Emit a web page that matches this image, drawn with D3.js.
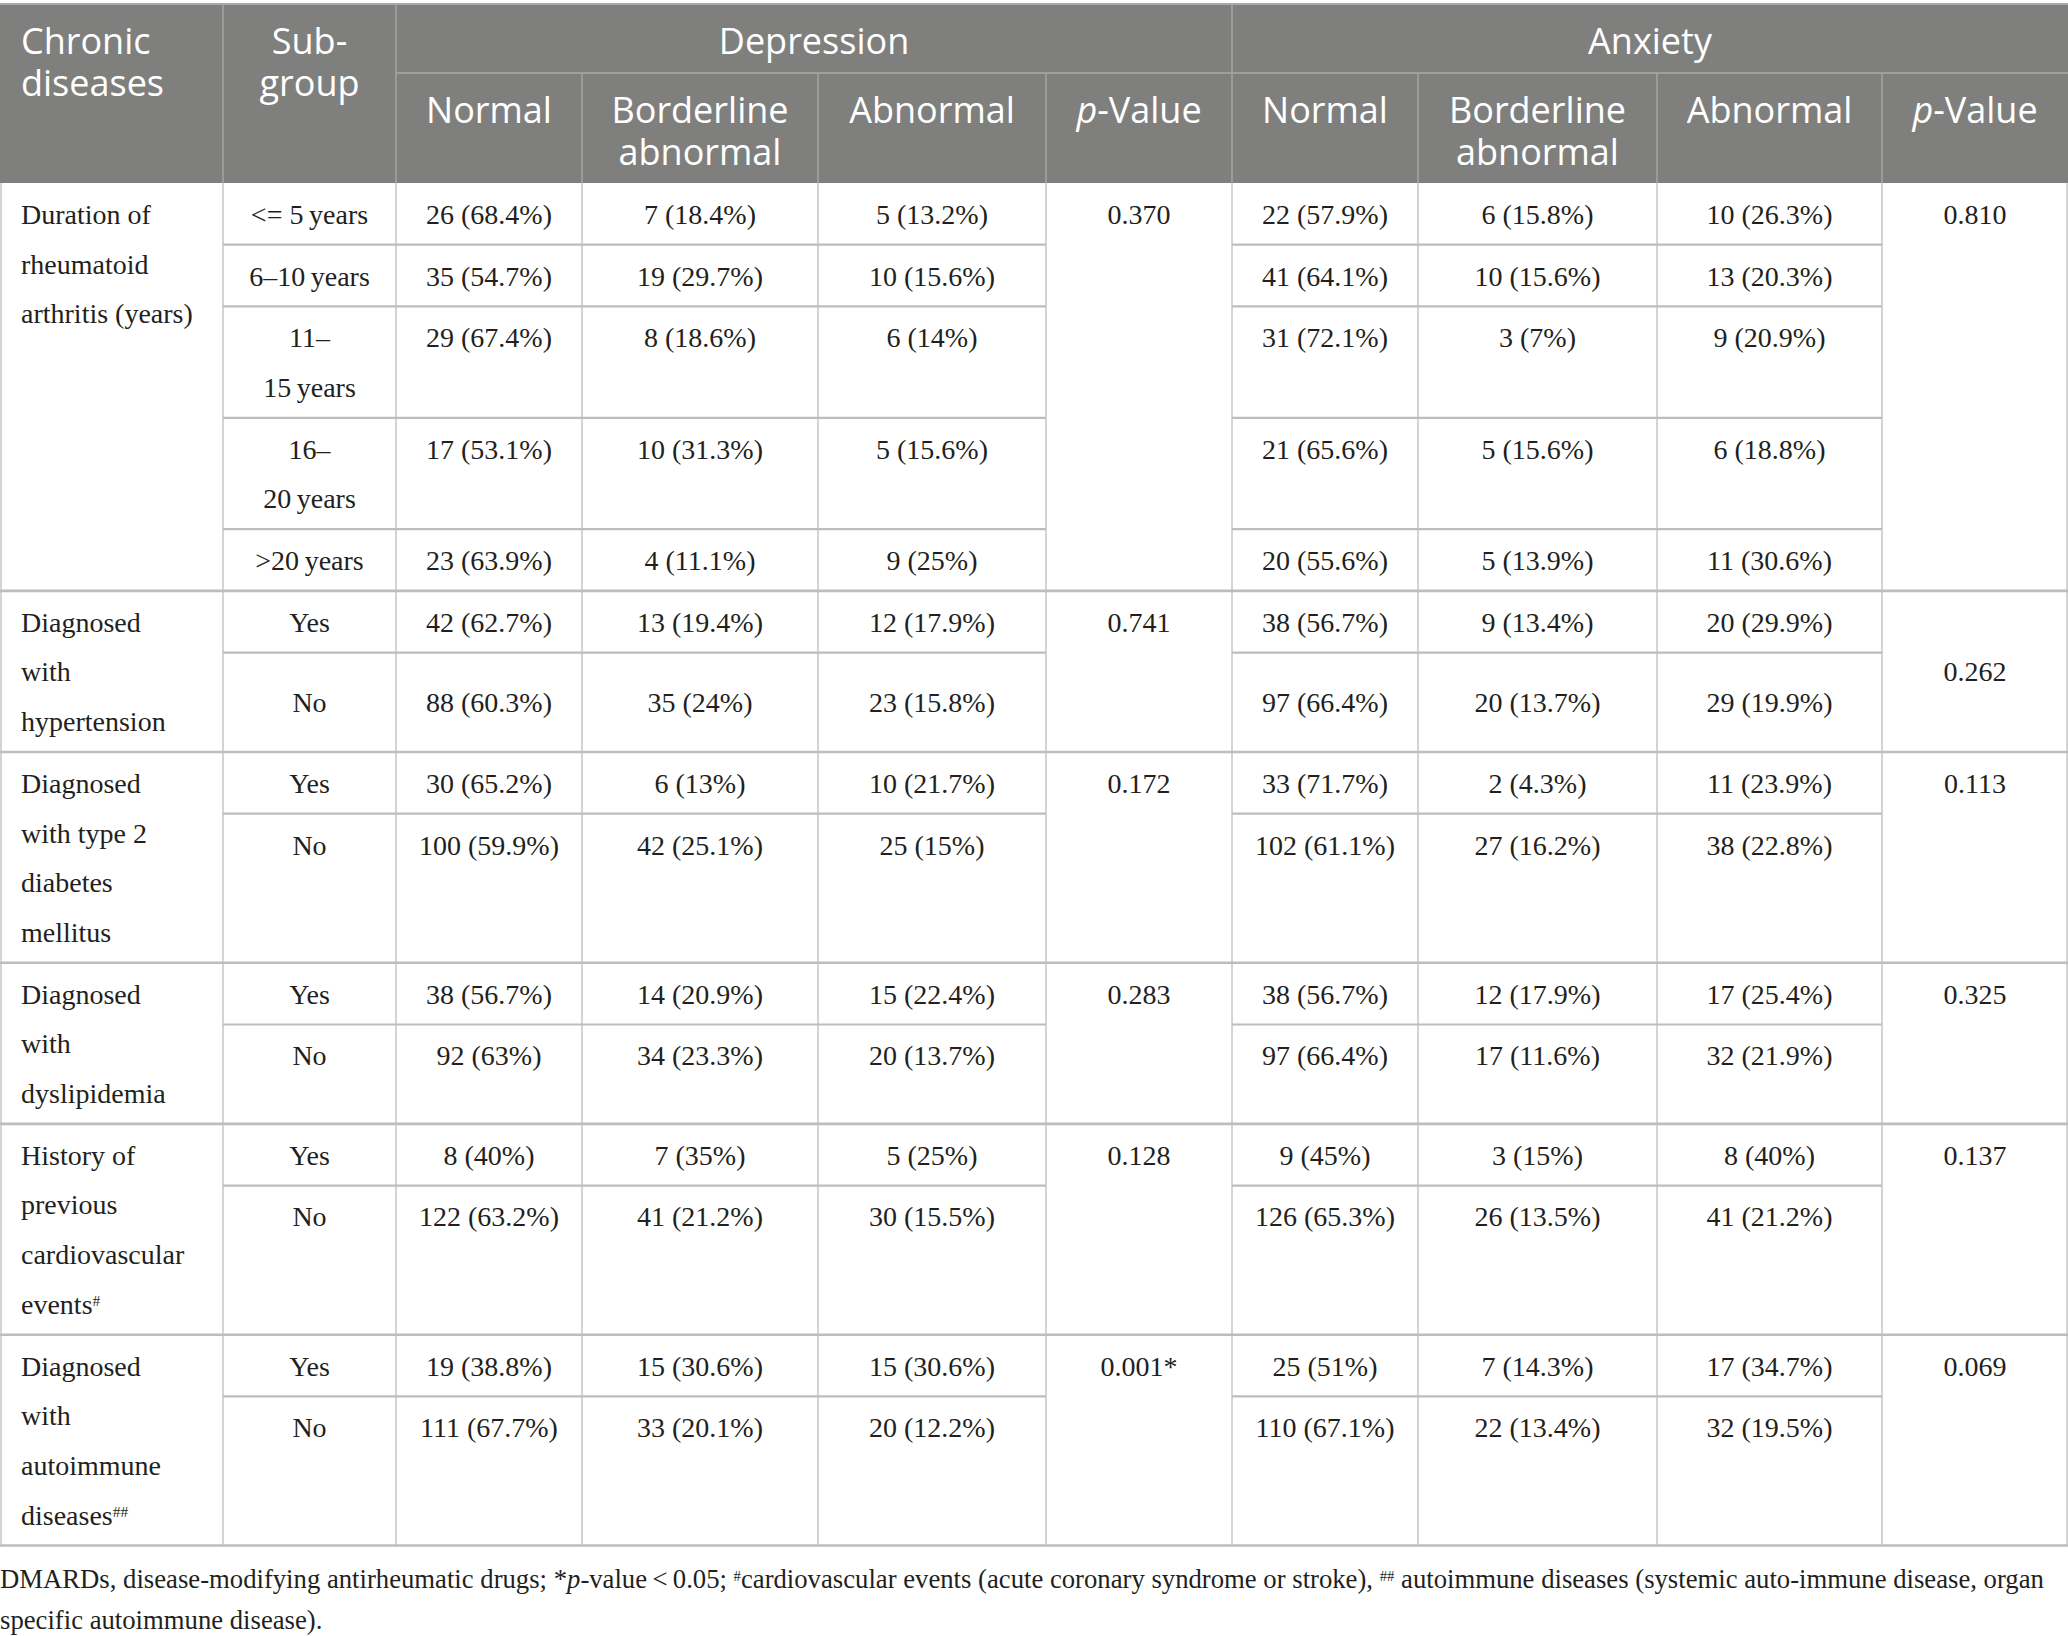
<!DOCTYPE html>
<html>
<head>
<meta charset="utf-8">
<script src="https://cdn.jsdelivr.net/npm/d3@7"></script>
<style>
body { margin: 0; background: #fff; }
</style>
</head>
<body>
<script>
// ---- table data ----
// "|" = line break, "^" = start of superscript
var groupLabels = [
  "Duration of|rheumatoid|arthritis (years)",
  "Diagnosed|with|hypertension",
  "Diagnosed|with type 2|diabetes|mellitus",
  "Diagnosed|with|dyslipidemia",
  "History of|previous|cardiovascular|events^#",
  "Diagnosed|with|autoimmune|diseases^##"
];
var subgroups = [
  ["<= 5\u2009years", "6\u201310\u2009years", "11\u2013|15\u2009years", "16\u2013|20\u2009years", ">20\u2009years"],
  ["Yes", "No"],
  ["Yes", "No"],
  ["Yes", "No"],
  ["Yes", "No"],
  ["Yes", "No"]
];
var depNormalN   = [26, 35, 29, 17, 23, 42, 88, 30, 100, 38, 92, 8, 122, 19, 111];
var depNormalPct = [68.4, 54.7, 67.4, 53.1, 63.9, 62.7, 60.3, 65.2, 59.9, 56.7, 63, 40, 63.2, 38.8, 67.7];
var depBorderN   = [7, 19, 8, 10, 4, 13, 35, 6, 42, 14, 34, 7, 41, 15, 33];
var depBorderPct = [18.4, 29.7, 18.6, 31.3, 11.1, 19.4, 24, 13, 25.1, 20.9, 23.3, 35, 21.2, 30.6, 20.1];
var depAbnN      = [5, 10, 6, 5, 9, 12, 23, 10, 25, 15, 20, 5, 30, 15, 20];
var depAbnPct    = [13.2, 15.6, 14, 15.6, 25, 17.9, 15.8, 21.7, 15, 22.4, 13.7, 25, 15.5, 30.6, 12.2];
var anxNormalN   = [22, 41, 31, 21, 20, 38, 97, 33, 102, 38, 97, 9, 126, 25, 110];
var anxNormalPct = [57.9, 64.1, 72.1, 65.6, 55.6, 56.7, 66.4, 71.7, 61.1, 56.7, 66.4, 45, 65.3, 51, 67.1];
var anxBorderN   = [6, 10, 3, 5, 5, 9, 20, 2, 27, 12, 17, 3, 26, 7, 22];
var anxBorderPct = [15.8, 15.6, 7, 15.6, 13.9, 13.4, 13.7, 4.3, 16.2, 17.9, 11.6, 15, 13.5, 14.3, 13.4];
var anxAbnN      = [10, 13, 9, 6, 11, 20, 29, 11, 38, 17, 32, 8, 41, 17, 32];
var anxAbnPct    = [26.3, 20.3, 20.9, 18.8, 30.6, 29.9, 19.9, 23.9, 22.8, 25.4, 21.9, 40, 21.2, 34.7, 19.5];
var depP = [0.370, 0.741, 0.172, 0.283, 0.128, 0.001];
var anxP = [0.810, 0.262, 0.113, 0.325, 0.137, 0.069];
var levelLabels = ["Normal", "Borderline|abnormal", "Abnormal", "^p-Value"];

// ---- layout ----
var W = 2068, H = 1636;
var colW = [223, 173, 186, 236, 228, 186, 186, 239, 225, 186];
var colX = [0].concat(Array.from(d3.cumsum(colW)));
var x = d3.scaleOrdinal().domain(d3.range(colX.length)).range(colX);
var top0 = 4, headMid = 73, headBot = 183;
var lineH = 49.7, pad = 12;
var headFill = '#7f807e', headLine = '#a9a9a9', bodyLine = '#bdbdbd';
var ink = '#231f20';
var sansFont = "'Open Sans', sans-serif", serifFont = "'Liberation Serif', serif";
var middleGroups = [1];  // hypertension block is vertically centred

var svg = d3.select('body').append('svg')
  .attr('width', W).attr('height', H)
  .style('display', 'block');

function fmtCell(n, p) {
  var s = (p % 1 === 0) ? d3.format('d')(p) : d3.format('.1f')(p);
  return n + ' (' + s + '%)';
}
function fmtP(p) {
  return d3.format('.3f')(p) + (p < 0.05 ? '*' : '');
}

// write one text line, "^" splits off a superscript (or italic p for header)
function putLine(g, str, xx, yy, anchor, opts) {
  var t = g.append('text')
    .attr('x', xx).attr('y', yy)
    .attr('text-anchor', anchor)
    .attr('font-family', opts.font)
    .attr('font-size', opts.size)
    .attr('fill', opts.color);
  var parts = str.split('^');
  if (opts.italicP && parts.length > 1) {
    t.append('tspan').attr('font-style', 'italic').text('p');
    t.append('tspan').text(parts[1].slice(1));
  } else {
    t.append('tspan').text(parts[0]);
    if (parts.length > 1) {
      t.append('tspan').attr('font-size', opts.size * 0.55)
        .attr('baseline-shift', '55%').text(parts[1]);
    }
  }
  return t;
}

function cellText(str, x0, x1, yTop, h, align, valign, opts) {
  var lines = str.split('|');
  var step = opts.step;
  var first;
  if (valign === 'middle') first = yTop + h / 2 - (lines.length - 1) * step / 2;
  else first = yTop + opts.first;
  lines.forEach(function(l, i) {
    var xx = align === 'left' ? x0 + 21 : (x0 + x1) / 2;
    putLine(svg, l, xx, first + i * step + opts.size * 0.35,
      align === 'left' ? 'start' : 'middle', opts);
  });
}

var headOpts = { font: sansFont, size: 36, color: '#fff', step: 42, first: 37, italicP: true };
var bodyOpts = { font: serifFont, size: 28, color: ink, step: lineH, first: 31 };

// ---- header ----
svg.append('rect').attr('x', 0).attr('y', top0)
  .attr('width', W).attr('height', headBot - top0).attr('fill', headFill);

var hl = svg.append('g').attr('stroke', headLine).attr('stroke-width', 1.3);
hl.append('line').attr('x1', 0).attr('x2', W).attr('y1', top0).attr('y2', top0).attr('stroke-width', 2);
hl.append('line').attr('x1', x(2)).attr('x2', W).attr('y1', headMid).attr('y2', headMid);
[1, 2, 6].forEach(function(c) {
  hl.append('line').attr('x1', x(c)).attr('x2', x(c)).attr('y1', top0).attr('y2', headBot);
});
[3, 4, 5, 7, 8, 9].forEach(function(c) {
  hl.append('line').attr('x1', x(c)).attr('x2', x(c)).attr('y1', headMid).attr('y2', headBot);
});

cellText('Chronic|diseases', x(0), x(1), top0, 0, 'left', 'top', headOpts);
cellText('Sub-|group', x(1), x(2), top0, 0, 'center', 'top', headOpts);
cellText('Depression', x(2), x(6), top0, 0, 'center', 'top', headOpts);
cellText('Anxiety', x(6), x(10), top0, 0, 'center', 'top', headOpts);
levelLabels.forEach(function(lab, i) {
  cellText(lab, x(2 + i), x(3 + i), headMid, 0, 'center', 'top', headOpts);
  cellText(lab, x(6 + i), x(7 + i), headMid, 0, 'center', 'top', headOpts);
});

// ---- body rows ----
var rows = [];   // one per subgroup
var groups = []; // one per disease block
var y = headBot, k = 0;
subgroups.forEach(function(subs, g) {
  var hs = subs.map(function(s) { return pad + s.split('|').length * lineH; });
  var need = pad + groupLabels[g].split('|').length * lineH;
  var sum = d3.sum(hs);
  if (need > sum) hs[hs.length - 1] += need - sum;
  var gy = y;
  subs.forEach(function(s, j) {
    rows.push({ g: g, label: s, y: y, h: hs[j], i: k++ });
    y += hs[j];
  });
  groups.push({ g: g, y: gy, h: y - gy });
});
var bodyBot = y;

var bl = svg.append('g').attr('stroke', bodyLine);
// vertical rules
colX.forEach(function(cx, c) {
  var xx = c === 0 ? 1 : (c === colX.length - 1 ? W - 1 : cx);
  bl.append('line').attr('x1', xx).attr('x2', xx)
    .attr('y1', headBot).attr('y2', bodyBot).attr('stroke-width', 1.3);
});
// group rules (full width)
groups.forEach(function(gr) {
  bl.append('line').attr('x1', 0).attr('x2', W)
    .attr('y1', gr.y + gr.h).attr('y2', gr.y + gr.h).attr('stroke-width', 2.6);
});
// subgroup rules (not across label or p-value columns)
rows.forEach(function(r, j) {
  var next = rows[j + 1];
  if (!next || next.g !== r.g) return;
  var yy = r.y + r.h;
  bl.append('line').attr('x1', x(1)).attr('x2', x(5)).attr('y1', yy).attr('y2', yy).attr('stroke-width', 2.2);
  bl.append('line').attr('x1', x(6)).attr('x2', x(9)).attr('y1', yy).attr('y2', yy).attr('stroke-width', 2.2);
});

var cols = [
  [depNormalN, depNormalPct], [depBorderN, depBorderPct], [depAbnN, depAbnPct],
  [anxNormalN, anxNormalPct], [anxBorderN, anxBorderPct], [anxAbnN, anxAbnPct]
];
var colIdx = [2, 3, 4, 6, 7, 8];

groups.forEach(function(gr) {
  var mid = middleGroups.indexOf(gr.g) >= 0;
  cellText(groupLabels[gr.g], x(0), x(1), gr.y, gr.h, 'left', 'top', bodyOpts);
  cellText(fmtP(depP[gr.g]), x(5), x(6), gr.y, gr.h, 'center', 'top', bodyOpts);
  cellText(fmtP(anxP[gr.g]), x(9), x(10), gr.y, gr.h, 'center', mid ? 'middle' : 'top', bodyOpts);
});

rows.forEach(function(r) {
  var va = middleGroups.indexOf(r.g) >= 0 ? 'middle' : 'top';
  cellText(r.label, x(1), x(2), r.y, r.h, 'center', va, bodyOpts);
  cols.forEach(function(pair, c) {
    cellText(fmtCell(pair[0][r.i], pair[1][r.i]), x(colIdx[c]), x(colIdx[c] + 1),
      r.y, r.h, 'center', va, bodyOpts);
  });
});

// ---- footnote ----
function footLine(yy, parts, fit) {
  var t = svg.append('text').attr('x', 0).attr('y', yy)
    .attr('font-family', serifFont).attr('font-size', 26).attr('fill', ink);
  parts.forEach(function(p) {
    var s = t.append('tspan').text(p.t);
    if (p.it) s.attr('font-style', 'italic');
    if (p.sup) s.attr('font-size', 15).attr('baseline-shift', '50%');
  });
  if (fit) {
    var len = t.node().getComputedTextLength();
    var fs = 26 * fit / len;
    t.attr('font-size', fs);
    t.selectAll('tspan').filter(function() { return d3.select(this).attr('baseline-shift'); })
      .attr('font-size', fs * 0.55);
  }
  return t;
}
var fy = bodyBot + 42;
var fl1 = footLine(fy, [
  { t: 'DMARDs, disease-modifying antirheumatic drugs; *' },
  { t: 'p', it: true },
  { t: '-value\u2009<\u20090.05; ' },
  { t: '#', sup: true },
  { t: 'cardiovascular events (acute coronary syndrome or stroke), ' },
  { t: '##', sup: true },
  { t: ' autoimmune diseases (systemic auto-immune disease, organ' }
], 2046);
footLine(fy + 41, [{ t: 'specific autoimmune disease).' }], 0)
  .attr('font-size', fl1.attr('font-size'));
</script>
</body>
</html>
